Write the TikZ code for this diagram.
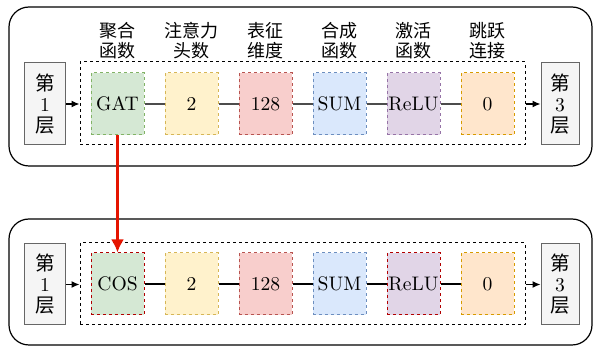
\documentclass[tikz,border=0pt]{standalone}
\usepackage{fontspec}
\newfontfamily\cjk{Noto Sans CJK SC}
\usetikzlibrary{arrows,arrows.meta}
\definecolor{layerfill}{HTML}{F5F5F5}
\definecolor{layerdraw}{HTML}{666666}
\definecolor{gfill}{HTML}{D5E8D4}
\definecolor{gdraw}{HTML}{82B366}
\definecolor{yfill}{HTML}{FFF2CC}
\definecolor{ydraw}{HTML}{D6B656}
\definecolor{rfill}{HTML}{F8CECC}
\definecolor{rdraw}{HTML}{B85450}
\definecolor{bfill}{HTML}{DAE8FC}
\definecolor{bdraw}{HTML}{6C8EBF}
\definecolor{pfill}{HTML}{E1D5E7}
\definecolor{pdraw}{HTML}{9673A6}
\definecolor{ofill}{HTML}{FFE6CC}
\definecolor{odraw}{HTML}{D79B00}
\definecolor{hotred}{HTML}{B20000}
\definecolor{arrowred}{HTML}{E51400}

\begin{document}
\begin{tikzpicture}[x=0.5pt,y=-0.5pt]
\tikzstyle{every node}=[inner sep=0pt, font=\fontsize{9.8}{10.5}\selectfont]
\tikzstyle{layer}=[draw=layerdraw, fill=layerfill, line width=0.5pt, align=center, font=\fontsize{9.8}{10.5}\selectfont]
\tikzstyle{param}=[draw, line width=0.5pt, dash pattern=on 1.5pt off 1.5pt, minimum width=26.5pt, minimum height=31pt]
\tikzstyle{group}=[draw, line width=0.5pt, dash pattern=on 1.5pt off 1.5pt, minimum width=222.5pt]
\tikzstyle{title}=[align=center, font=\cjk\fontsize{9}{10}\selectfont]
\tikzstyle{link}=[line width=0.6pt]
\tikzstyle{into}=[line width=0.6pt, -{Latex[length=4pt,width=3.5pt]}]
\useasboundingbox (0,0) rectangle (596,347);
% first layer
\draw[rounded corners=10pt, line width=0.6pt] (9,7) rectangle (592,166);
\draw (302.5,103.5) node (box1) [group, minimum height=41.5pt] {};
\draw (45,104) node (l1a) [layer, minimum width=20.5pt, minimum height=41pt] {{\cjk 第}\\1\\{\cjk 层}};
\draw (560,104) node (l3a) [layer, minimum width=19pt, minimum height=41pt] {{\cjk 第}\\3\\{\cjk 层}};
\draw (117.5,104) node (agg1) [param, fill=gfill, draw=gdraw] {GAT};
\draw (191.5,104) node (head1) [param, fill=yfill, draw=ydraw] {2};
\draw (265.5,104) node (dim1) [param, fill=rfill, draw=rdraw] {128};
\draw (339.5,104) node (comb1) [param, fill=bfill, draw=bdraw] {SUM};
\draw (413.5,104) node (act1) [param, fill=pfill, draw=pdraw] {ReLU};
\draw (487.5,104) node (skip1) [param, fill=ofill, draw=odraw] {0};
\draw (117.5,41) node (tagg) [title] {聚合\\函数};
\draw (191.5,41) node (thead) [title] {注意力\\头数};
\draw (265.5,41) node (tdim) [title] {表征\\维度};
\draw (339.5,41) node (tcomb) [title] {合成\\函数};
\draw (413.5,41) node (tact) [title] {激活\\函数};
\draw (487.5,41) node (tskip) [title] {跳跃\\连接};
\draw[link, draw=black!70] (agg1) -- (head1);
\draw[link, draw=black!70] (head1) -- (dim1);
\draw[link, draw=black!70] (dim1) -- (comb1);
\draw[link, draw=black!70] (comb1) -- (act1);
\draw[link, draw=black!70] (act1) -- (skip1);
\draw[into] (l1a.east) -- (l1a.east -| box1.west);
\draw[into] (l3a.west -| box1.east) -- (l3a.west);
% second layer
\draw[rounded corners=10pt, line width=0.6pt] (9,219) rectangle (592,345);
\draw (302.5,284) node (box2) [group, minimum height=41pt] {};
\draw (45,284.5) node (l1b) [layer, minimum width=20.5pt, minimum height=40.5pt] {{\cjk 第}\\1\\{\cjk 层}};
\draw (560,284.5) node (l3b) [layer, minimum width=19pt, minimum height=40.5pt] {{\cjk 第}\\3\\{\cjk 层}};
\draw (117.5,284) node (agg2) [param, fill=gfill, draw=hotred] {COS};
\draw (191.5,284) node (head2) [param, fill=yfill, draw=ydraw] {2};
\draw (265.5,284) node (dim2) [param, fill=rfill, draw=rdraw] {128};
\draw (339.5,284) node (comb2) [param, fill=bfill, draw=bdraw] {SUM};
\draw (413.5,284) node (act2) [param, fill=pfill, draw=hotred] {ReLU};
\draw (487.5,284) node (skip2) [param, fill=ofill, draw=odraw] {0};
\draw[link] (agg2) -- (head2);
\draw[link] (head2) -- (dim2);
\draw[link] (dim2) -- (comb2);
\draw[link] (comb2) -- (act2);
\draw[link] (act2) -- (skip2);
\draw[into] (l1b.east) -- (l1b.east -| box2.west);
\draw[into] (l3b.west -| box2.east) -- (l3b.west);
% changed operator
\draw[arrowred, line width=1.6pt, -{Latex[length=6.5pt,width=6.5pt]}] (agg1) -- (agg2);
\end{tikzpicture}
\end{document}
